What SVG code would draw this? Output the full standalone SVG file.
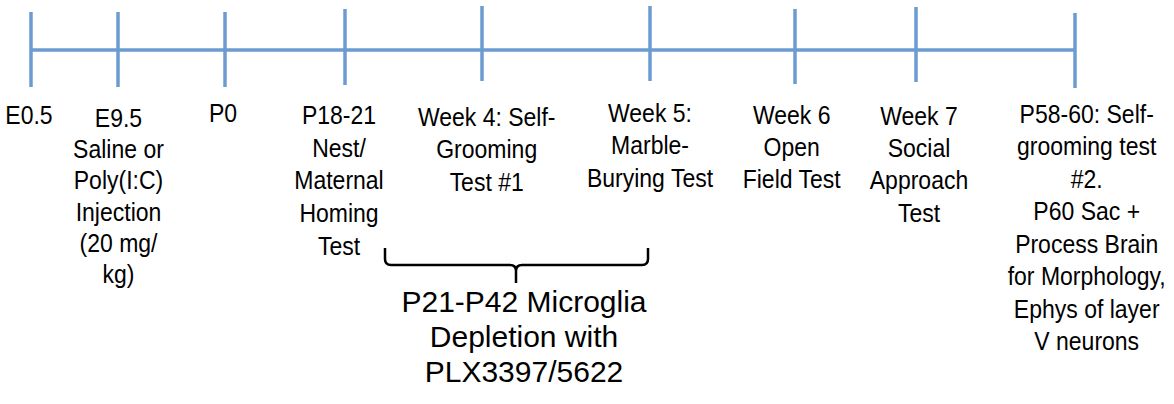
<svg xmlns="http://www.w3.org/2000/svg" width="1174" height="404" viewBox="0 0 1174 404">
<style>
.ax{stroke:#6b9bd0;stroke-width:3.5;fill:none;stroke-linecap:butt}
.t{font-family:"Liberation Sans",Arial,sans-serif;font-size:25px;fill:#000;text-anchor:middle}
.b{font-family:"Liberation Sans",Arial,sans-serif;font-size:30px;fill:#000;text-anchor:middle}
.br{stroke:#000;stroke-width:2.5;fill:none}
</style>
<rect width="1174" height="404" fill="#fff"/>
<g id="connectors">
<line class="ax" x1="31" y1="50" x2="1075" y2="50"/>
<path class="br" d="M385,248 V259 Q385,265 391,265 H510 Q516,265 516,271 V283 M516,271 Q516,265 522,265 H642 Q648,265 648,259 V248"/>
</g>
<g id="tick-e05"><line class="ax" x1="31" y1="12" x2="31" y2="87"/><text class="t" transform="translate(29 0) scale(0.92 1)" x="0" y="124">E0.5</text></g>
<g id="tick-e95"><line class="ax" x1="118" y1="12" x2="118" y2="87"/>
<text class="t" transform="translate(118.5 0) scale(0.92 1)" x="0" y="127">E9.5<tspan x="0" dy="31.2">Saline or</tspan><tspan x="0" dy="31.2">Poly(I:C)</tspan><tspan x="0" dy="31.2">Injection</tspan><tspan x="0" dy="31.2">(20 mg/</tspan><tspan x="0" dy="31.2">kg)</tspan></text></g>
<g id="tick-p0"><line class="ax" x1="225" y1="12" x2="225" y2="87"/><text class="t" transform="translate(223 0) scale(0.92 1)" x="0" y="122">P0</text></g>
<g id="tick-p18"><line class="ax" x1="345" y1="9" x2="345" y2="85"/>
<text class="t" transform="translate(339 0) scale(0.92 1)" x="0" y="124.3">P18-21<tspan x="0" dy="32.6">Nest/</tspan><tspan x="0" dy="32.6">Maternal</tspan><tspan x="0" dy="32.6">Homing</tspan><tspan x="0" dy="32.6">Test</tspan></text></g>
<g id="tick-w4"><line class="ax" x1="482" y1="6" x2="482" y2="81"/>
<text class="t" transform="translate(486.7 0) scale(0.92 1)" x="0" y="126">Week 4: Self-<tspan x="0" dy="32.5">Grooming</tspan><tspan x="0" dy="32.5">Test #1</tspan></text></g>
<g id="tick-w5"><line class="ax" x1="650" y1="6" x2="650" y2="81"/>
<text class="t" transform="translate(650 0) scale(0.92 1)" x="0" y="121.7">Week 5:<tspan x="0" dy="32.5">Marble-</tspan><tspan x="0" dy="32.5">Burying Test</tspan></text></g>
<g id="tick-w6"><line class="ax" x1="795" y1="9" x2="795" y2="84"/>
<text class="t" transform="translate(791.7 0) scale(0.92 1)" x="0" y="124.3">Week 6<tspan x="0" dy="31.8">Open</tspan><tspan x="0" dy="31.8">Field Test</tspan></text></g>
<g id="tick-w7"><line class="ax" x1="916" y1="7" x2="916" y2="82"/>
<text class="t" transform="translate(919 0) scale(0.92 1)" x="0" y="125">Week 7<tspan x="0" dy="32.2">Social</tspan><tspan x="0" dy="32.2">Approach</tspan><tspan x="0" dy="32.2">Test</tspan></text></g>
<g id="tick-p58"><line class="ax" x1="1075" y1="13" x2="1075" y2="88"/>
<text class="t" transform="translate(1086.7 0) scale(0.92 1)" x="0" y="122.7">P58-60: Self-<tspan x="0" dy="32.5">grooming test</tspan><tspan x="0" dy="32.5">#2.</tspan><tspan x="0" dy="32.5">P60 Sac +</tspan><tspan x="0" dy="32.5">Process Brain</tspan><tspan x="0" dy="32.5">for Morphology,</tspan><tspan x="0" dy="32.5">Ephys of layer</tspan><tspan x="0" dy="32.5">V neurons</tspan></text></g>
<g id="depletion">
<text class="b" x="524" y="311.7">P21-P42 Microglia<tspan x="524" dy="35">Depletion with</tspan><tspan x="524" dy="35">PLX3397/5622</tspan></text></g>
</svg>
